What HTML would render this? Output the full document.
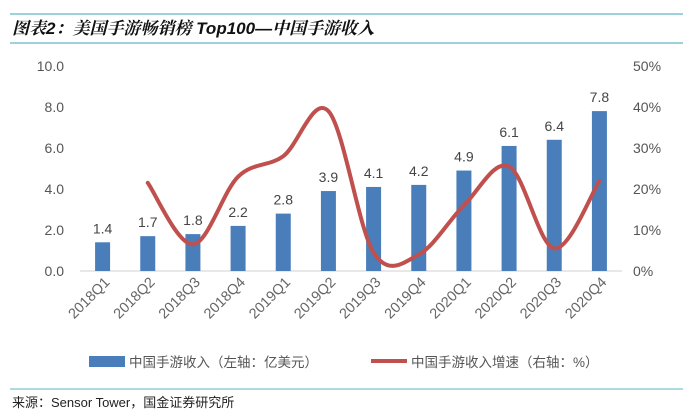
<!DOCTYPE html>
<html><head><meta charset="utf-8"><style>
body{margin:0;width:693px;height:416px;background:#fff;overflow:hidden;font-family:"Liberation Sans","Noto Sans CJK SC",sans-serif;}
</style></head><body>
<svg width="693" height="416" style="position:absolute;left:0;top:0">
<line x1="10" y1="14" x2="683" y2="14" stroke="#7ec4cf" stroke-width="1.5"/>
<text x="12" y="34" font-size="17" font-style="italic" font-weight="bold" font-family="'Liberation Sans','Noto Serif CJK SC',serif" fill="#111">图表2：美国手游畅销榜 Top100—中国手游收入</text>
<line x1="10" y1="43" x2="683" y2="43" stroke="#7ec4cf" stroke-width="1.5"/>
<g id="plot"></g>
<g>
<rect x="89" y="356" width="36" height="11" fill="#4a7ebb"/>
<text x="129" y="367" font-size="13.5" fill="#555">中国手游收入（左轴：亿美元）</text>
<line x1="371" y1="361" x2="407" y2="361" stroke="#c0504d" stroke-width="4"/>
<text x="411" y="367" font-size="13.5" fill="#555">中国手游收入增速（右轴：%）</text>
</g>
<line x1="10" y1="389" x2="683" y2="389" stroke="#7ec4cf" stroke-width="1.2"/>
<text x="12" y="407" font-size="13" fill="#222">来源：Sensor Tower，国金证券研究所</text>
</svg>
<script>
const categories=["2018Q1","2018Q2","2018Q3","2018Q4","2019Q1","2019Q2","2019Q3","2019Q4","2020Q1","2020Q2","2020Q3","2020Q4"];
const revenue=[1.4,1.7,1.8,2.2,2.8,3.9,4.1,4.2,4.9,6.1,6.4,7.8];
const growth=[null,21.5,6.5,23,28,39,4.5,4,16,25.5,5.5,22];
const leftTicks=["0.0","2.0","4.0","6.0","8.0","10.0"];
const rightTicks=["0%","10%","20%","30%","40%","50%"];
const NS="http://www.w3.org/2000/svg";
const g=document.getElementById('plot');
const y0=271,y1=66,xL=80,xR=622;
const yL=v=>y0-(v/10)*(y0-y1);
const yR=v=>y0-(v/50)*(y0-y1);
const step=(xR-xL)/categories.length;
const xC=i=>xL+step*(i+0.5);
function mk(t,a){const e=document.createElementNS(NS,t);for(const k in a)e.setAttribute(k,a[k]);g.appendChild(e);return e;}
leftTicks.forEach((t,i)=>{const e=mk('text',{x:64,y:yL(i*2)+5,'font-size':14,fill:'#555','text-anchor':'end'});e.textContent=t;

});
rightTicks.forEach((t,i)=>{const e=mk('text',{x:633,y:yR(i*10)+5,'font-size':14,fill:'#555'});e.textContent=t;

});
const ax=mk('line',{x1:xL,y1:y0,x2:xR,y2:y0,stroke:'#d9d9d9','stroke-width':1.2});


revenue.forEach((v,i)=>{const b=mk('rect',{x:xC(i)-7.5,y:yL(v),width:15,height:y0-yL(v),fill:'#4a7ebb'});


const t=mk('text',{x:xC(i),y:yL(v)-9,'font-size':14,fill:'#444','text-anchor':'middle'});t.textContent=v.toFixed(1);


const c=mk('text',{transform:`translate(${xC(i)+8},${y0+12}) rotate(-45)`,'font-size':14.5,fill:'#666','text-anchor':'end'});c.textContent=categories[i];

});
const pts=[];growth.forEach((v,i)=>{if(v!==null)pts.push([xC(i),yR(v)]);});
let d=`M${pts[0][0]},${pts[0][1]}`;
for(let i=0;i<pts.length-1;i++){const p0=pts[i-1]||pts[i],p1=pts[i],p2=pts[i+1],p3=pts[i+2]||p2;
d+=` C${p1[0]+(p2[0]-p0[0])/6},${p1[1]+(p2[1]-p0[1])/6} ${p2[0]-(p3[0]-p1[0])/6},${p2[1]-(p3[1]-p1[1])/6} ${p2[0]},${p2[1]}`;}
const ln=mk('path',{d:d,fill:'none',stroke:'#c0504d','stroke-width':4,'stroke-linecap':'round'});


</script>
</body></html>
